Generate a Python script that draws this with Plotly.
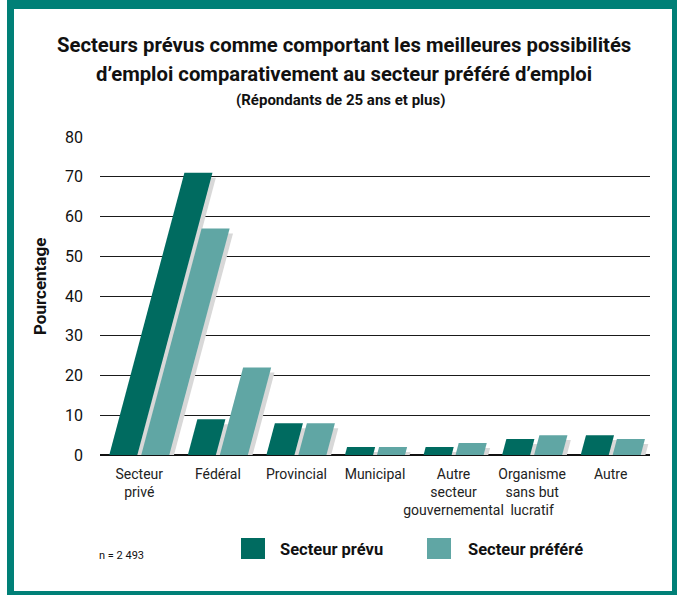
import plotly.graph_objects as go

# Survey results (percent of respondents aged 25+)
categories = ["Secteur<br>privé", "Fédéral", "Provincial", "Municipal",
              "Autre<br>secteur<br>gouvernemental", "Organisme<br>sans but<br>lucratif", "Autre"]
prevu = [71, 9, 8, 2, 2, 4, 5]
prefere = [57, 22, 8, 2, 3, 5, 4]
series_names = ["Secteur prévu", "Secteur préféré"]
y_ticks = [0, 10, 20, 30, 40, 50, 60, 70, 80]

DARK = "#006b60"
LIGHT = "#60a6a4"
SHADOW = "#d8d8d8"
FRAME = "#008077"
FONT = "Roboto, Liberation Sans, sans-serif"

# figure geometry (pixels)
W, H = 677, 595
PL, PR, PT, PB = 100, 650, 137, 455


def fx(p):
    return (p - PL) / (PR - PL)


def fy(p):
    return (PB - p) / (PB - PT)


# bar geometry in axis units
SLANT = 0.01347          # horizontal lean per y unit
BAR_EDGES = [(-0.382, -0.025), (0.025, 0.382)]
SH_DX, SH_DY = 0.043, 1.25   # drop-shadow offset


def bar_poly(i, v, edges):
    x0, x1 = i + edges[0], i + edges[1]
    xs = [x0, x1, x1 + SLANT * v, x0 + SLANT * v, x0]
    ys = [0, 0, v, v, 0]
    return xs, ys


def shadow_poly(i, v, edges):
    x0, x1 = i + edges[0] + SH_DX, i + edges[1] + SH_DX
    top = max(v - SH_DY, 0)
    xs = [x0 + SLANT * SH_DY, x1 + SLANT * SH_DY, x1 + SLANT * v, x0 + SLANT * v, x0 + SLANT * SH_DY]
    ys = [0, 0, top, top, 0]
    return xs, ys


fig = go.Figure()
series = [(prevu, DARK, BAR_EDGES[0]), (prefere, LIGHT, BAR_EDGES[1])]

# shadows underneath
for vals, _, edges in series:
    for i, v in enumerate(vals):
        xs, ys = shadow_poly(i, v, edges)
        fig.add_trace(go.Scatter(x=xs, y=ys, fill="toself", fillcolor=SHADOW,
                                 mode="none", hoverinfo="skip", showlegend=False))

# slanted bars
for (vals, color, edges), name in zip(series, series_names):
    for i, v in enumerate(vals):
        xs, ys = bar_poly(i, v, edges)
        fig.add_trace(go.Scatter(x=xs, y=ys, fill="toself", fillcolor=color,
                                 mode="none", name=name, showlegend=False,
                                 hovertemplate=f"{categories[i].replace('<br>', ' ')}: {v} %<extra>{name}</extra>"))

fig.update_layout(
    width=W, height=H,
    margin=dict(l=PL, r=W - PR, t=PT, b=H - PB),
    paper_bgcolor="white", plot_bgcolor="white",
    font=dict(family=FONT, color="#111"),
    showlegend=False,
)

fig.update_xaxes(
    range=[-0.5, 6.5], tickvals=list(range(len(categories))), ticktext=categories,
    showgrid=False, zeroline=False, showline=False, ticks="", tickangle=0,
    tickfont=dict(size=14, family=FONT, color="#222"), ticklabelstandoff=9,
)
fig.update_yaxes(
    range=[0, 80], tickvals=y_ticks, showgrid=True, gridcolor="#1a1a1a", gridwidth=1.2,
    zeroline=True, zerolinecolor="#111", zerolinewidth=1.6, showline=False, ticks="",
    tickfont=dict(size=16, family=FONT, color="#111"), ticklabelstandoff=16,
)

ann = []
ann.append(dict(text="<b>Secteurs prévus comme comportant les meilleures possibilités</b>",
                x=fx(344), y=fy(45), font=dict(size=20.3)))
ann.append(dict(text="<b>d’emploi comparativement au secteur préféré d’emploi</b>",
                x=fx(344), y=fy(74), font=dict(size=20.3)))
ann.append(dict(text="<b>(Répondants de 25 ans et plus)</b>",
                x=fx(340), y=fy(100), font=dict(size=15)))
ann.append(dict(text="<b>Pourcentage</b>", x=fx(40), y=fy(287), textangle=-90,
                font=dict(size=17)))
ann.append(dict(text="n = 2 493", x=fx(97), y=fy(555), xanchor="left",
                font=dict(size=11)))
ann.append(dict(text="<b>Secteur prévu</b>", x=fx(278), y=fy(549), xanchor="left",
                font=dict(size=16.5)))
ann.append(dict(text="<b>Secteur préféré</b>", x=fx(466), y=fy(549), xanchor="left",
                font=dict(size=16.5)))
for a in ann:
    a.setdefault("xanchor", "center")
    a.update(xref="paper", yref="paper", yanchor="middle", showarrow=False)
    fig.add_annotation(**a)

shapes = []
# legend swatches
for (x0, x1), color in [((241, 265), DARK), ((427, 451), LIGHT)]:
    shapes.append(dict(type="rect", x0=fx(x0), x1=fx(x1), y0=fy(559), y1=fy(538),
                       fillcolor=color, line_width=0))
# outer frame
for x0, x1, y0, y1 in [(7, 14, 0, 595), (7, 677, 0, 9), (672, 677, 0, 595), (7, 677, 591, 595)]:
    shapes.append(dict(type="rect", x0=fx(x0), x1=fx(x1), y0=fy(y1), y1=fy(y0),
                       fillcolor=FRAME, line_width=0))
for s in shapes:
    s.update(xref="paper", yref="paper", layer="above")
    fig.add_shape(**s)

fig.write_html("out.html")
